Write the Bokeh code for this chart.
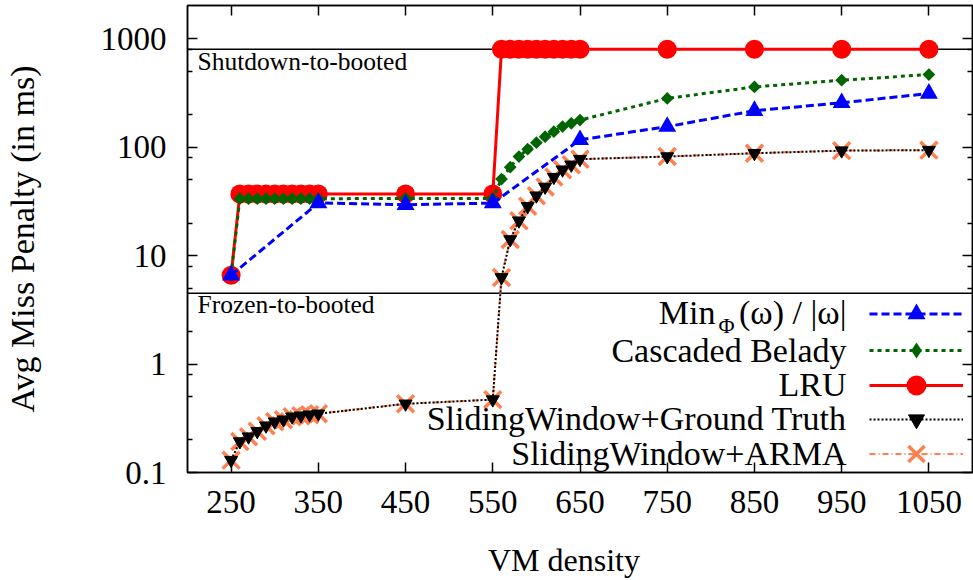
from bokeh.plotting import figure
from bokeh.models import (Range1d, FixedTicker, LinearAxis, LogAxis, Label, Span,
                          Legend, LegendItem, CustomJSTickFormatter)
from bokeh.embed import file_html
from bokeh.resources import INLINE
import math

# ---------------- data ----------------
dense_x = [250, 260, 270, 280, 290, 300, 310, 320, 330, 340, 350,
           450, 550,
           560, 570, 580, 590, 600, 610, 620, 630, 640, 650,
           750, 850, 950, 1050]
min_x = [250, 350, 450, 550, 650, 750, 850, 950, 1050]
min_y = [6.6, 30.6, 29.5, 30.5, 117, 155, 217, 257, 313]

belady_y = [6.6, 33.5, 33.5, 33.5, 33.5, 33.5, 33.5, 33.5, 33.5, 33.5, 33.5,
            33.7, 33.7,
            50.8, 65.5, 82, 96, 110, 125, 139, 155, 166, 178,
            282, 360, 415, 468]
lru_y = [6.6, 37, 37, 37, 37, 37, 37, 37, 37, 37, 37,
         37, 37,
         800, 800, 800, 800, 800, 800, 800, 800, 800, 800,
         800, 800, 800, 800]
gt_y = [0.130, 0.193, 0.214, 0.240, 0.270, 0.294, 0.307, 0.327, 0.334, 0.341, 0.348,
        0.43, 0.47,
        6.3, 14.1, 21, 28.5, 35.7, 43, 53, 62, 68.8, 77.6,
        82, 88, 93, 94]
arma_y = [0.130, 0.193, 0.214, 0.240, 0.270, 0.294, 0.307, 0.327, 0.334, 0.341, 0.348,
          0.43, 0.47,
          6.3, 14.1, 21, 28.5, 35.7, 43, 53, 62, 68.8, 77.6,
          82, 88, 93, 94]

x_ticks = [250, 350, 450, 550, 650, 750, 850, 950, 1050]
y_ticks = [0.1, 1, 10, 100, 1000]
y_minor = [0.2, 0.5, 0.8, 2, 5, 8, 20, 50, 80, 200, 500, 800]
shutdown_level = 800
frozen_level = 4.5

series_names = ["Cascaded Belady", "LRU", "SlidingWindow+Ground Truth", "SlidingWindow+ARMA"]

# ---------------- layout ----------------
FONT = "Liberation Serif"
W, H = 973, 580
BL, BR, BT, BB = 186, 1, 5, 106
FRAME_H = H - BT - BB

p = figure(width=W, height=H, output_backend="svg", toolbar_location=None,
           y_axis_type="log",
           x_range=Range1d(200, 1100), y_range=Range1d(0.1, 2028),
           min_border_left=BL, min_border_right=BR, min_border_top=BT, min_border_bottom=BB)
p.grid.visible = False
p.outline_line_color = "black"
p.outline_line_width = 1.5
p.background_fill_color = "white"
p.border_fill_color = "white"

# reference lines
p.add_layout(Span(location=shutdown_level, dimension="width", line_color="black",
                  line_width=1.5, level="underlay"))
p.add_layout(Span(location=frozen_level, dimension="width", line_color="black",
                  line_width=1.5, level="underlay"))

# series (drawn bottom to top)
arma_l = p.line(dense_x, arma_y, line_color="#ff7f50", line_width=2, line_dash="6 3 1 3")
arma_m = p.scatter(dense_x, arma_y, marker="x", size=24, line_color="#ff7f50", line_width=3.5)
gt_l = p.line(dense_x, gt_y, line_color="black", line_width=2, line_dash="2 2")
gt_m = p.scatter(dense_x, gt_y, marker="inverted_triangle", size=13, fill_color="black", line_color="black")
lru_l = p.line(dense_x, lru_y, line_color="#ff0000", line_width=3)
lru_m = p.scatter(dense_x, lru_y, marker="circle", size=19, fill_color="#ff0000", line_color=None)
bel_l = p.line(dense_x, belady_y, line_color="#006400", line_width=3, line_dash="4 4")
bel_m = p.scatter(dense_x, belady_y, marker="square", angle=math.pi / 4, size=9,
                  fill_color="#006400", line_color=None)
bel_key = p.scatter(dense_x, belady_y, marker="diamond", size=14,
                    fill_color="#006400", line_color=None, visible=False)
min_l = p.line(min_x, min_y, line_color="#0000ff", line_width=3, line_dash="8 4")
min_m = p.scatter(min_x, min_y, marker="triangle", size=18, fill_color="#0000ff", line_color=None)

# axes
def style_axis(ax, minor=True):
    ax.axis_line_color = "black"
    ax.axis_line_width = 1.5
    ax.major_tick_in = 10
    ax.major_tick_out = 0
    ax.major_tick_line_color = "black"
    ax.major_tick_line_width = 1.5
    if minor:
        ax.minor_tick_in = 5
        ax.minor_tick_out = 0
        ax.minor_tick_line_color = "black"
        ax.minor_tick_line_width = 1.5
    else:
        ax.minor_tick_line_color = None
    ax.major_label_text_font = FONT
    ax.major_label_text_color = "black"
    ax.axis_label_text_font = FONT
    ax.axis_label_text_font_style = "normal"
    ax.axis_label_text_color = "black"

yax = p.yaxis[0]
yax.ticker = FixedTicker(ticks=y_ticks, minor_ticks=y_minor)
yax.formatter = CustomJSTickFormatter(code="return tick.toString()")
style_axis(yax)
yax.major_label_text_font_size = "33px"
yax.major_label_standoff = 21
yax.axis_label = "Avg Miss Penalty (in ms)"
yax.axis_label_text_font_size = "34px"
yax.axis_label_standoff = 57

xax = p.xaxis[0]
xax.ticker = FixedTicker(ticks=x_ticks)
style_axis(xax, minor=False)
xax.major_label_text_font_size = "33px"
xax.major_label_standoff = 18
# trailing no-break spaces move the centred title left, where the reference has it
xax.axis_label = "VM density" + "\u00a0" * 4
xax.axis_label_text_font_size = "32px"
xax.axis_label_standoff = 26

blank = CustomJSTickFormatter(code="return ''")
top_ax = LinearAxis(ticker=FixedTicker(ticks=x_ticks), formatter=blank)
style_axis(top_ax, minor=False)
top_ax.major_label_standoff = 0
top_ax.major_label_text_font_size = "1px"
p.add_layout(top_ax, "above")
right_ax = LogAxis(ticker=FixedTicker(ticks=y_ticks, minor_ticks=y_minor), formatter=blank)
style_axis(right_ax)
right_ax.major_label_standoff = 0
right_ax.major_label_text_font_size = "1px"
p.add_layout(right_ax, "right")

# in-plot annotations (y measured from the bottom of the frame, text centred on caps)
def note(text, x, y, size, align="left"):
    p.add_layout(Label(x=x, y=y, x_units="screen", y_units="screen", text=text,
                       text_font=FONT, text_font_size=size, text_color="black",
                       text_align=align, text_baseline="middle"))

note("Shutdown-to-booted", 10, 411, "25.5px")
note("Frozen-to-booted", 10, 168, "25.5px")

# key: texts right aligned, samples to the right
TXT_R = 659
note("(\u03c9) / |\u03c9|", TXT_R, 160, "34px", "right")
note("\u03a6", TXT_R - 112, 147, "22px", "right")
note("Min", TXT_R - 131, 160, "34px", "right")
note(series_names[0], TXT_R, 122.5, "34px", "right")
note(series_names[1], TXT_R, 88, "34px", "right")
note(series_names[2], TXT_R, 54.5, "34px", "right")
note(series_names[3], TXT_R, 19.5, "34px", "right")

SAMPLE_X = 682
def sample(renderers, center_from_top, h):
    y = FRAME_H - center_from_top - h / 2
    leg = Legend(items=[LegendItem(label=" ", renderers=renderers)],
                 location=(SAMPLE_X, y), glyph_width=94, glyph_height=h,
                 label_width=1, label_height=8, label_standoff=0, padding=0, margin=0,
                 spacing=0, border_line_color=None, background_fill_alpha=0,
                 label_text_font_size="8px", label_text_font=FONT, inactive_fill_alpha=0)
    p.add_layout(leg)

sample([min_l, min_m], 310, 45)
sample([bel_l, bel_key], 346.5, 40)
sample([lru_l, lru_m], 381.5, 50)
sample([gt_l, gt_m], 415.5, 40)
sample([arma_l, arma_m], 450, 57)

open("out.html", "w").write(file_html(p, INLINE))
